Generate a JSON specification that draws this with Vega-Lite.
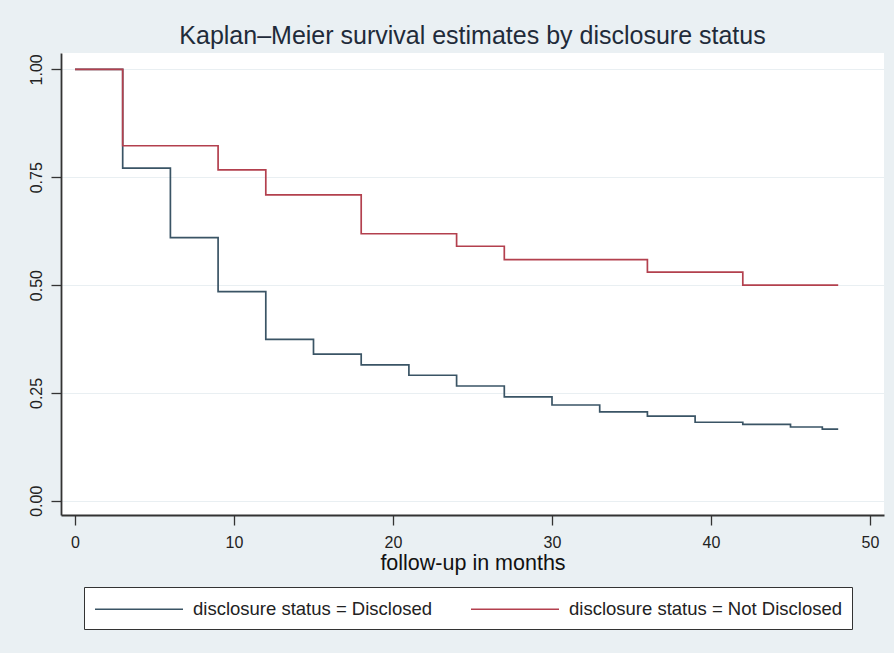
{
  "$schema": "https://vega.github.io/schema/vega-lite/v6.json",
  "autosize": {"type": "none"},
  "width": 823,
  "height": 462,
  "padding": {"left": 61, "top": 53, "right": 10, "bottom": 138},
  "background": "#eaf0f3",
  "view": {"fill": "white", "stroke": null},
  "title": {
    "text": "Kaplan–Meier survival estimates by disclosure status",
    "font": "Liberation Sans",
    "fontSize": 25,
    "fontWeight": "normal",
    "color": "#1f2b3a",
    "anchor": "middle",
    "offset": 4
  },
  "data": {
    "values": [
      {"t": 0, "s": 1.0, "g": "disclosure status = Disclosed"},
      {"t": 3, "s": 0.771, "g": "disclosure status = Disclosed"},
      {"t": 6, "s": 0.61, "g": "disclosure status = Disclosed"},
      {"t": 9, "s": 0.485, "g": "disclosure status = Disclosed"},
      {"t": 12, "s": 0.374, "g": "disclosure status = Disclosed"},
      {"t": 15, "s": 0.34, "g": "disclosure status = Disclosed"},
      {"t": 18, "s": 0.315, "g": "disclosure status = Disclosed"},
      {"t": 21, "s": 0.291, "g": "disclosure status = Disclosed"},
      {"t": 24, "s": 0.266, "g": "disclosure status = Disclosed"},
      {"t": 27, "s": 0.241, "g": "disclosure status = Disclosed"},
      {"t": 30, "s": 0.222, "g": "disclosure status = Disclosed"},
      {"t": 33, "s": 0.206, "g": "disclosure status = Disclosed"},
      {"t": 36, "s": 0.196, "g": "disclosure status = Disclosed"},
      {"t": 39, "s": 0.182, "g": "disclosure status = Disclosed"},
      {"t": 42, "s": 0.177, "g": "disclosure status = Disclosed"},
      {"t": 45, "s": 0.171, "g": "disclosure status = Disclosed"},
      {"t": 47, "s": 0.166, "g": "disclosure status = Disclosed"},
      {"t": 48, "s": 0.166, "g": "disclosure status = Disclosed"},
      {"t": 0, "s": 1.0, "g": "disclosure status = Not Disclosed"},
      {"t": 3, "s": 0.823, "g": "disclosure status = Not Disclosed"},
      {"t": 9, "s": 0.767, "g": "disclosure status = Not Disclosed"},
      {"t": 12, "s": 0.709, "g": "disclosure status = Not Disclosed"},
      {"t": 18, "s": 0.619, "g": "disclosure status = Not Disclosed"},
      {"t": 24, "s": 0.590, "g": "disclosure status = Not Disclosed"},
      {"t": 27, "s": 0.559, "g": "disclosure status = Not Disclosed"},
      {"t": 36, "s": 0.530, "g": "disclosure status = Not Disclosed"},
      {"t": 42, "s": 0.500, "g": "disclosure status = Not Disclosed"},
      {"t": 48, "s": 0.500, "g": "disclosure status = Not Disclosed"}
    ]
  },
  "mark": {"type": "line", "interpolate": "step-after", "strokeWidth": 1.7},
  "encoding": {
    "x": {
      "field": "t",
      "type": "quantitative",
      "scale": {"domain": [-0.88, 50.88], "nice": false, "zero": false},
      "axis": {
        "values": [0, 10, 20, 30, 40, 50],
        "title": "follow-up in months",
        "titleFont": "Liberation Sans",
        "titleFontSize": 21.5,
        "titleFontWeight": "normal",
        "titleColor": "#111",
        "titlePadding": 2,
        "labelFont": "Liberation Sans",
        "labelFontSize": 16,
        "labelColor": "#222",
        "labelPadding": 9,
        "grid": false,
        "domainColor": "#333",
        "domainWidth": 1.8,
        "tickColor": "#333",
        "tickSize": 10,
        "tickWidth": 1.3
      }
    },
    "y": {
      "field": "s",
      "type": "quantitative",
      "scale": {"domain": [-0.033, 1.038], "nice": false, "zero": false},
      "axis": {
        "values": [0, 0.25, 0.5, 0.75, 1],
        "format": ".2f",
        "title": null,
        "labelAngle": -90,
        "labelAlign": "center",
        "labelBaseline": "bottom",
        "labelFont": "Liberation Sans",
        "labelFontSize": 16,
        "labelColor": "#222",
        "labelPadding": 7,
        "grid": true,
        "gridColor": "#e9eff2",
        "gridWidth": 1.2,
        "domainColor": "#333",
        "domainWidth": 1.8,
        "tickColor": "#333",
        "tickSize": 10,
        "tickWidth": 1.3
      }
    },
    "color": {
      "field": "g",
      "type": "nominal",
      "scale": {
        "domain": ["disclosure status = Disclosed", "disclosure status = Not Disclosed"],
        "range": ["#3a5465", "#b3404e"]
      },
      "legend": {
        "title": null,
        "orient": "none",
        "legendX": 23,
        "legendY": 534,
        "direction": "horizontal",
        "symbolType": "M-1,0H7",
        "symbolSize": 484,
        "symbolStrokeWidth": 1.7,
        "labelFont": "Liberation Sans",
        "labelFontSize": 18.5,
        "labelColor": "#222",
        "labelOffset": 75,
        "columnPadding": 34,
        "padding": 10,
        "fillColor": "white",
        "strokeColor": "#333",
        "labelLimit": 400
      }
    }
  }
}
